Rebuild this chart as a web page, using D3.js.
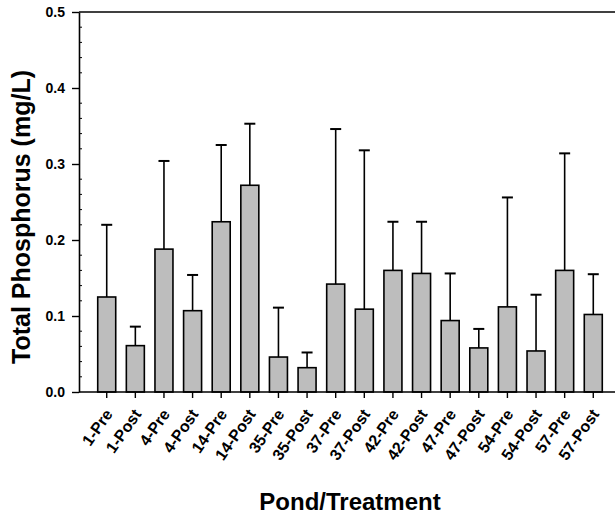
<!DOCTYPE html>
<html>
<head>
<meta charset="utf-8">
<script src="https://cdn.jsdelivr.net/npm/d3@7"></script>
<style>
  body { margin: 0; background: #fff; }
  text { font-family: "Liberation Sans", Arial, sans-serif; font-weight: bold; fill: #000; }
</style>
</head>
<body>
<div id="chart"></div>
<script>
// Data
var categories = ["1-Pre", "1-Post", "4-Pre", "4-Post", "14-Pre", "14-Post", "35-Pre", "35-Post",
  "37-Pre", "37-Post", "42-Pre", "42-Post", "47-Pre", "47-Post", "54-Pre", "54-Post", "57-Pre", "57-Post"];
var means = [0.125, 0.061, 0.188, 0.107, 0.224, 0.272, 0.046, 0.032, 0.142,
  0.109, 0.160, 0.156, 0.094, 0.058, 0.112, 0.054, 0.160, 0.102];
var errors = [0.095, 0.025, 0.116, 0.047, 0.101, 0.081, 0.065, 0.020, 0.204,
  0.209, 0.064, 0.068, 0.062, 0.025, 0.144, 0.074, 0.154, 0.053];
var yTicks = [0.0, 0.1, 0.2, 0.3, 0.4, 0.5];

// Dimensions
var width = 615, height = 515;
var plot = {left: 79, right: 615, top: 12, bottom: 392};

var svg = d3.select("#chart").append("svg")
  .attr("width", width)
  .attr("height", height);

// Scales
var x = d3.scaleLinear()
  .domain([0, categories.length + 1])
  .range([78.1, 621.9]);

var y = d3.scaleLinear()
  .domain([0, 0.5])
  .range([plot.bottom, plot.top]);

var barW = 18, capW = 11;

// Bars
svg.selectAll(".bar")
  .data(means).enter().append("rect")
  .attr("class", "bar")
  .attr("x", function(d, i){ return x(i + 1) - barW / 2 })
  .attr("y", function(d){ return y(d) })
  .attr("width", barW)
  .attr("height", function(d){ return y(0) - y(d) })
  .attr("fill", "#bdbdbd")
  .attr("stroke", "#000")
  .attr("stroke-width", 1.6);

// Error bars (upper only)
svg.selectAll(".err")
  .data(means).enter().append("line")
  .attr("x1", function(d, i){ return x(i + 1) })
  .attr("x2", function(d, i){ return x(i + 1) })
  .attr("y1", function(d){ return y(d) })
  .attr("y2", function(d, i){ return y(d + errors[i]) })
  .attr("stroke", "#000")
  .attr("stroke-width", 1.6);

svg.selectAll(".cap")
  .data(means).enter().append("line")
  .attr("x1", function(d, i){ return x(i + 1) - capW / 2 })
  .attr("x2", function(d, i){ return x(i + 1) + capW / 2 })
  .attr("y1", function(d, i){ return y(d + errors[i]) })
  .attr("y2", function(d, i){ return y(d + errors[i]) })
  .attr("stroke", "#000")
  .attr("stroke-width", 2);

// Top frame line
svg.append("line")
  .attr("x1", plot.left).attr("x2", plot.right).attr("y1", plot.top).attr("y2", plot.top)
  .attr("stroke", "#000").attr("stroke-width", 1.6);

// Y axis
var yAxis = d3.axisLeft(y)
  .tickValues(yTicks)
  .tickFormat(d3.format(".1f"))
  .tickSizeInner(7)
  .tickSizeOuter(0)
  .tickPadding(7);

var gy = svg.append("g")
  .attr("transform", "translate(" + plot.left + ",0)")
  .call(yAxis);
gy.select(".domain").attr("stroke-width", 1.6);
gy.selectAll(".tick line").attr("stroke-width", 1.4);
gy.selectAll("text")
  .style("font-family", "'Liberation Sans', Arial, sans-serif")
  .style("font-weight", "bold")
  .style("font-size", "14px");

// minor ticks, inside
var minor = d3.range(0, 0.5001, 0.02).filter(function(v){ return Math.round(v * 100) % 10 != 0 });
svg.selectAll(".minor")
  .data(minor).enter().append("line")
  .attr("x1", plot.left).attr("x2", plot.left + 3)
  .attr("y1", function(d){ return y(d) }).attr("y2", function(d){ return y(d) })
  .attr("stroke", "#000").attr("stroke-width", 1);

// X axis
var gx = svg.append("g")
  .attr("transform", "translate(0," + plot.bottom + ")");
gx.append("line")
  .attr("x1", plot.left).attr("x2", plot.right)
  .attr("stroke", "#000").attr("stroke-width", 1.6);
gx.selectAll(".xt")
  .data(categories).enter().append("line")
  .attr("x1", function(d, i){ return x(i + 1) })
  .attr("x2", function(d, i){ return x(i + 1) })
  .attr("y1", 0).attr("y2", 6)
  .attr("stroke", "#000").attr("stroke-width", 1.4);
gx.selectAll(".xl")
  .data(categories).enter().append("text")
  .attr("transform", function(d, i){ return "translate(" + (x(i + 1) + 2) + ",19) rotate(-55)" })
  .attr("text-anchor", "end")
  .attr("dy", "0.35em")
  .style("font-size", "16px")
  .text(function(d){ return d });

// Axis titles
svg.append("text")
  .attr("transform", "translate(30,217) rotate(-90)")
  .attr("text-anchor", "middle")
  .style("font-size", "25px")
  .text("Total Phosphorus (mg/L)");

svg.append("text")
  .attr("x", 350)
  .attr("y", 510)
  .attr("text-anchor", "middle")
  .style("font-size", "24px")
  .text("Pond/Treatment");
</script>
</body>
</html>
